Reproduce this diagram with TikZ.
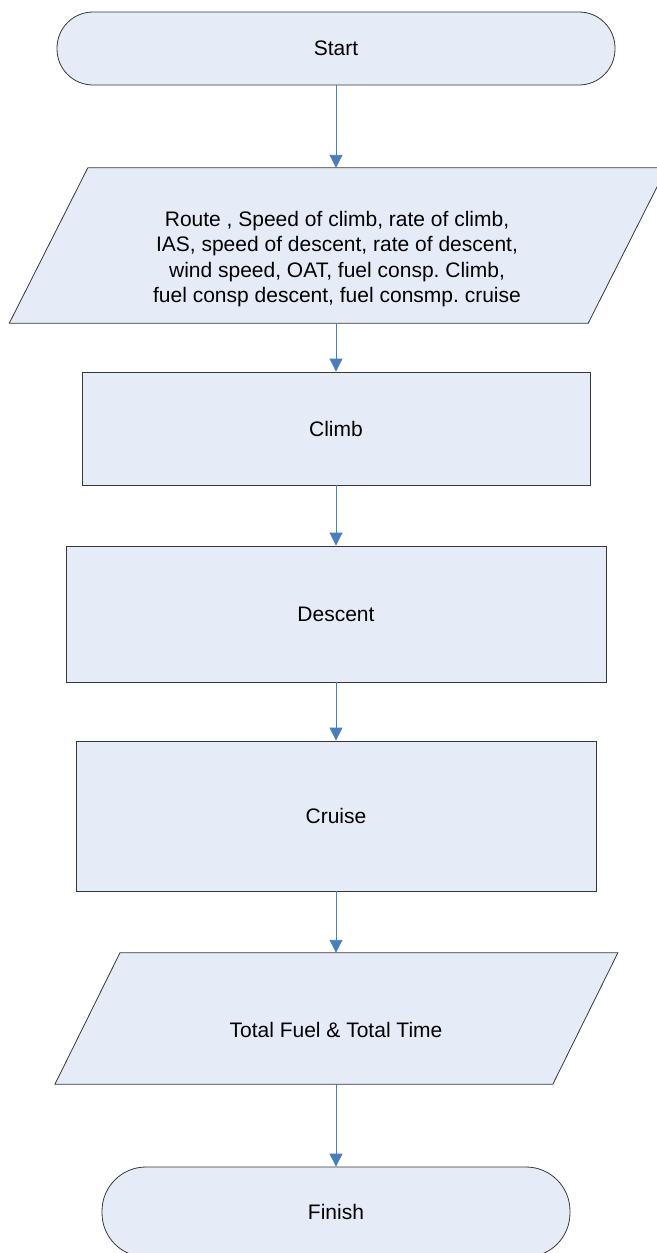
\documentclass[tikz,border=0pt]{standalone}
\usepackage{fontspec}
\setmainfont{Liberation Sans}
\usetikzlibrary{arrows.meta,calc}
\definecolor{boxfill}{RGB}{230,236,247}
\definecolor{boxline}{RGB}{55,55,55}
\definecolor{flow}{RGB}{74,126,187}
\tikzset{
  every node/.style={font=\fontsize{21}{25.3}\selectfont, text=black},
  terminal/.style={draw=boxline, fill=boxfill, line width=0.8pt, rectangle,
    rounded corners=#1, inner sep=0pt},
  process/.style={draw=boxline, fill=boxfill, line width=0.9pt, rectangle, inner sep=0pt},
  iobox/.style={rectangle, inner sep=0pt},
  para/.style={draw=boxline, fill=boxfill, line width=0.8pt},
  flowline/.style={draw=flow, line width=0.9pt, -{Triangle[width=13pt,length=13pt]}},
  lbl/.style={align=center, inner sep=0pt},
}
\frenchspacing
\begin{document}
\begin{tikzpicture}[x=1pt,y=-1pt]
\useasboundingbox (0,0) rectangle (656,1253);

% terminal: start
\node[terminal=36pt, minimum width=558pt, minimum height=73pt] (start) at (336,48.5) {Start};

% input data (parallelogram)
\node[iobox, minimum width=578.5pt, minimum height=155pt] (input) at (338,245.5) {};
\draw[para] ($(input.north west)+(39.25,0)$) -- ($(input.north east)+(39.25,0)$)
  -- ($(input.south east)+(-39.25,0)$) -- ($(input.south west)+(-39.25,0)$) -- cycle;
\node[lbl] (inputtext) at (337,259) {Route , Speed of climb, rate of climb,\\
  IAS, speed of descent, rate of descent,\\
  wind speed, OAT, fuel consp. Climb,\\
  fuel consp descent, fuel consmp. cruise};

% flight phases
\node[process, minimum width=508pt, minimum height=113pt] (climb) at (336,428.5) {Climb};
\node[process, minimum width=540pt, minimum height=136pt] (descent) at (336,614) {Descent};
\node[process, minimum width=520pt, minimum height=150pt] (cruise) at (336,816) {Cruise};

% output (parallelogram)
\node[iobox, minimum width=497.5pt, minimum height=131pt] (output) at (336.4,1018.5) {};
\draw[para] ($(output.north west)+(32.5,0)$) -- ($(output.north east)+(32.5,0)$)
  -- ($(output.south east)+(-32.5,0)$) -- ($(output.south west)+(-32.5,0)$) -- cycle;
\node[lbl] (outputtext) at (336,1030) {Total Fuel \& Total Time};

% terminal: finish
\node[terminal=44pt, minimum width=468pt, minimum height=90pt] (finish) at (336,1212) {Finish};

% connectors
\draw[flowline] (start.south) -- (start.south |- input.north);
\draw[flowline] (climb.north |- input.south) -- (climb.north);
\draw[flowline] (climb.south) -- (descent.north);
\draw[flowline] (descent.south) -- (cruise.north);
\draw[flowline] (cruise.south) -- (cruise.south |- output.north);
\draw[flowline] (finish.north |- output.south) -- (finish.north);
\end{tikzpicture}
\end{document}
